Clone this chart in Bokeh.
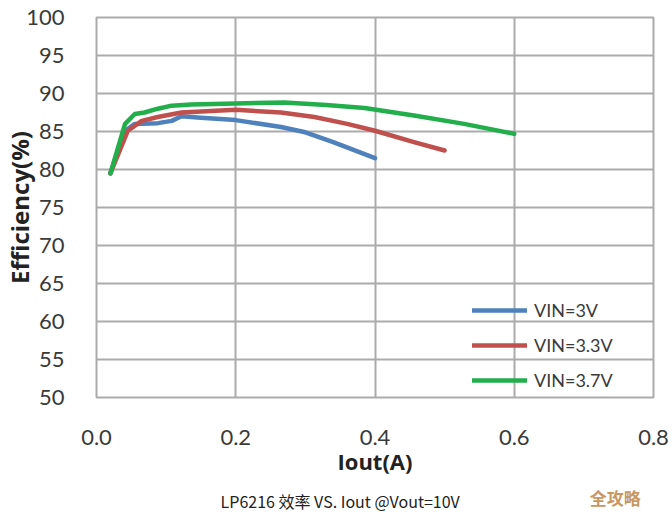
from bokeh.plotting import figure
from bokeh.models import Range1d, FixedTicker, PrintfTickFormatter, Legend, LegendItem, LinearAxis
from bokeh.embed import file_html
from bokeh.resources import INLINE

# Data
iout_3v = [0.02, 0.04, 0.055, 0.088, 0.108, 0.122, 0.15, 0.2, 0.265, 0.3, 0.34, 0.4]
eff_3v = [79.5, 85.0, 86.0, 86.1, 86.4, 87.0, 86.8, 86.5, 85.6, 84.9, 83.6, 81.5]

iout_33v = [0.02, 0.045, 0.065, 0.088, 0.122, 0.2, 0.265, 0.313, 0.36, 0.4, 0.456, 0.5]
eff_33v = [79.5, 85.1, 86.4, 86.9, 87.5, 87.85, 87.5, 86.9, 86.0, 85.1, 83.6, 82.5]

iout_37v = [0.02, 0.041, 0.055, 0.069, 0.088, 0.108, 0.136, 0.2, 0.27, 0.33, 0.385, 0.456, 0.528, 0.6]
eff_37v = [79.5, 86.0, 87.3, 87.5, 88.0, 88.4, 88.55, 88.7, 88.8, 88.5, 88.1, 87.1, 86.0, 84.7]

series_names = ["VIN=3V", "VIN=3.3V", "VIN=3.7V"]
series_colors = ["#4F81BD", "#C0504D", "#22AE4B"]

x_ticks = [0.0, 0.2, 0.4, 0.6, 0.8]
y_ticks = [50, 55, 60, 65, 70, 75, 80, 85, 90, 95, 100]

title_text = "LP6216 效率 VS. Iout @Vout=10V"
badge_text = "全攻略"

# anchor points (in x units) for the caption and the corner badge
CAPTION_AT = 0.35
BADGE_AT = 0.745

FONT = "Lato"
BOLD_FONT = "Open Sans"
GRID = "#ababab"

p = figure(width=672, height=515, output_backend="svg", toolbar_location=None,
           x_range=Range1d(0, 0.8), y_range=Range1d(50, 100),
           min_border_left=95, min_border_right=19, min_border_top=17, min_border_bottom=118)

p.outline_line_color = GRID
p.outline_line_width = 2
p.background_fill_color = "white"
p.border_fill_color = "white"

p.xgrid.grid_line_color = GRID
p.xgrid.grid_line_width = 2
p.ygrid.grid_line_color = GRID
p.ygrid.grid_line_width = 2

p.xaxis.ticker = FixedTicker(ticks=x_ticks)
p.yaxis.ticker = FixedTicker(ticks=y_ticks)
p.xaxis.formatter = PrintfTickFormatter(format="%.1f")

for ax in (p.xaxis, p.yaxis):
    ax.axis_line_color = None
    ax.major_tick_line_color = None
    ax.minor_tick_line_color = None
    ax.major_tick_out = 0
    ax.major_tick_in = 0
    ax.minor_tick_out = 0
    ax.minor_tick_in = 0
    ax.major_label_text_font = FONT
    ax.major_label_text_font_size = "22px"
    ax.major_label_text_color = "#3a3a3a"
    ax.axis_label_text_font = BOLD_FONT
    ax.axis_label_text_font_style = "bold"
    ax.axis_label_text_color = "#222222"

p.xaxis.axis_label = "Iout(A)"
p.yaxis.axis_label = "Efficiency(%)"
p.xaxis.axis_label_text_font_size = "22px"
p.yaxis.axis_label_text_font_size = "24px"
p.xaxis.major_label_standoff = 32
p.yaxis.major_label_standoff = 32
p.xaxis.axis_label_standoff = -2
p.yaxis.axis_label_standoff = -13

r1 = p.line(iout_3v, eff_3v, line_color=series_colors[0], line_width=4.5, line_join="round", line_cap="round")
r2 = p.line(iout_33v, eff_33v, line_color=series_colors[1], line_width=4.5, line_join="round", line_cap="round")
r3 = p.line(iout_37v, eff_37v, line_color=series_colors[2], line_width=4.5, line_join="round", line_cap="round")

legend = Legend(items=[LegendItem(label=series_names[0], renderers=[r1]),
                       LegendItem(label=series_names[1], renderers=[r2]),
                       LegendItem(label=series_names[2], renderers=[r3])],
                location=(376, 6), orientation="vertical",
                background_fill_alpha=0, border_line_color=None,
                padding=0, margin=0, spacing=13,
                glyph_width=55, glyph_height=20, label_height=20, label_standoff=7,
                label_text_font=FONT, label_text_font_size="18px", label_text_color="#3a3a3a")
p.add_layout(legend, "center")

def text_axis(at, text, standoff, **style):
    ax = LinearAxis(ticker=FixedTicker(ticks=[at]), major_label_overrides={at: text},
                    axis_line_color=None, major_tick_line_color=None, minor_tick_line_color=None,
                    major_tick_out=0, major_tick_in=0, minor_tick_out=0, minor_tick_in=0,
                    major_label_standoff=standoff, **style)
    p.add_layout(ax, "below")

# corner badge and caption, each drawn as a one-tick axis under the x axis
text_axis(BADGE_AT, badge_text, 6,
          major_label_text_font="Noto Sans CJK SC", major_label_text_font_size="17px",
          major_label_text_font_style="bold", major_label_text_color="#C9975F")
text_axis(CAPTION_AT, title_text, -24,
          major_label_text_font="Noto Sans CJK SC", major_label_text_font_size="16px",
          major_label_text_color="#222222")

open("out.html", "w").write(file_html(p, INLINE))
